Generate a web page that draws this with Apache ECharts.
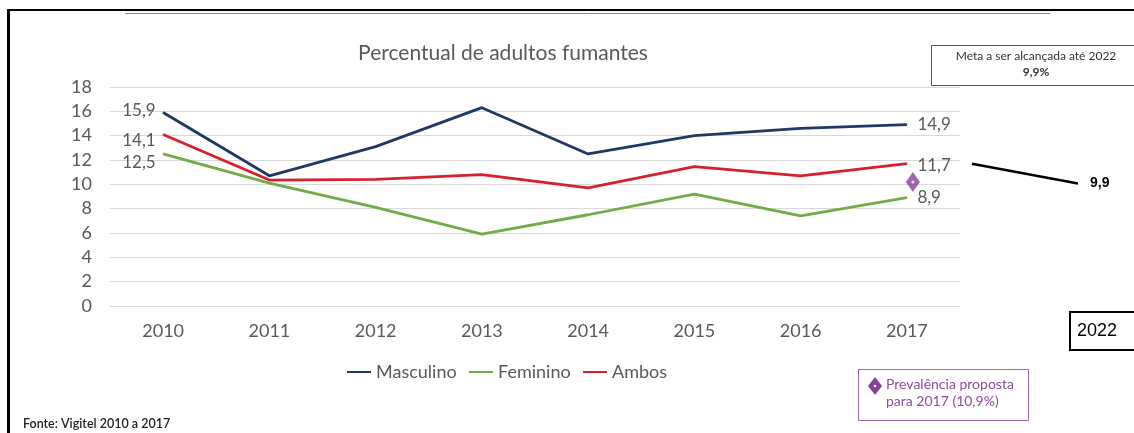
<!DOCTYPE html>
<html><head><meta charset="utf-8">
<script src="https://cdn.jsdelivr.net/npm/echarts@6/dist/echarts.min.js"></script>
<style>html,body{margin:0;padding:0;background:#fff}#c{width:1134px;height:433px}</style>
</head><body><div id="c"></div>
<script>
const years = ['2010','2011','2012','2013','2014','2015','2016','2017'];
const masculino = [15.9, 10.7, 13.1, 16.3, 12.5, 14.0, 14.6, 14.9];
const feminino  = [12.5, 10.1, 8.1, 5.9, 7.5, 9.2, 7.4, 8.9];
const ambos     = [14.1, 10.35, 10.4, 10.8, 9.7, 11.45, 10.7, 11.7];
const proposta2017 = 10.2;
const meta2022 = 9.9;
const yTicks = [0, 2, 4, 6, 8, 10, 12, 14, 16, 18];

const FONT = 'Lato, "Open Sans", sans-serif';
const GREY = '#595959';
const fmt = v => String(v).replace('.', ',');

function labelled(arr, firstOffset, lastOffset) {
  return arr.map((v, i) => {
    if (i === 0) return { value: v, label: { show: true, position: 'left', distance: 7, offset: firstOffset } };
    if (i === arr.length - 1) return { value: v, label: { show: true, position: 'right', distance: 10, offset: lastOffset } };
    return { value: v };
  });
}

const chart = echarts.init(document.getElementById('c'), null, { renderer: 'canvas' });
const baseLabel = { show: false, color: GREY, fontSize: 17, fontFamily: FONT, formatter: p => fmt(p.value) };
const legendCommon = { icon: 'rect', itemWidth: 24, itemHeight: 2, top: 358,
  textStyle: { color: GREY, fontSize: 18, fontFamily: FONT } };
function lineSeries(name, data, color, fo, lo, z) {
  return { name, type: 'line', data: labelled(data, fo, lo), symbol: 'circle', symbolSize: 1, showSymbol: true,
    color, itemStyle: { color }, lineStyle: { width: 2.8, color }, label: baseLabel, z };
}
chart.setOption({
  animation: false,
  title: { text: 'Percentual de adultos fumantes', left: 498, top: 38, textAlign: 'center',
    textStyle: { color: GREY, fontSize: 21, fontWeight: 'normal', fontFamily: FONT } },
  grid: { left: 110, right: 174, top: 87, bottom: 127 },
  legend: [
    Object.assign({ data: ['Masculino'], left: 342 }, legendCommon),
    Object.assign({ data: ['Feminino'], left: 464 }, legendCommon),
    Object.assign({ data: ['Ambos'], left: 578 }, legendCommon)
  ],
  xAxis: { type: 'category', data: years, boundaryGap: true,
    axisLine: { show: false }, axisTick: { show: false },
    axisLabel: { color: GREY, fontSize: 18, fontFamily: FONT, margin: 16 } },
  yAxis: { type: 'value', min: yTicks[0], max: yTicks[yTicks.length - 1], interval: 2,
    axisLine: { show: false }, axisTick: { show: false },
    splitLine: { lineStyle: { color: '#d9d9d9', width: 1 } },
    axisLabel: { color: GREY, fontSize: 18, fontFamily: FONT, margin: 18 } },
  series: [
    lineSeries('Feminino', feminino, '#70ad47', [0, 9], [0, 0], 2),
    lineSeries('Masculino', masculino, '#1f3864', [0, -2], [0, 0], 3),
    lineSeries('Ambos', ambos, '#d7202b', [0, 6], [0, 2], 4),
    { name: 'Proposta', type: 'scatter', data: [['2017', proposta2017]], symbol: 'diamond',
      symbolSize: [14, 20], symbolOffset: [6, 0], itemStyle: { color: '#87409a' }, z: 5 },
    { name: 'PropostaDot', type: 'scatter', data: [['2017', proposta2017]], symbol: 'circle',
      symbolSize: 3, symbolOffset: [6, 0], itemStyle: { color: '#fff' }, z: 6 }
  ]
});

function drawExtras() {
  const yStart = chart.convertToPixel({ yAxisIndex: 0 }, ambos[ambos.length - 1]);
  const yEnd = chart.convertToPixel({ yAxisIndex: 0 }, meta2022);
  chart.setOption({ graphic: [
    { type: 'line', shape: { x1: 8.5, y1: 9, x2: 8.5, y2: 433 }, style: { stroke: '#000', lineWidth: 3 } },
    { type: 'line', shape: { x1: 7, y1: 10, x2: 1134, y2: 10 }, style: { stroke: '#000', lineWidth: 2 } },
    { type: 'line', shape: { x1: 125, y1: 13.5, x2: 1050, y2: 13.5 }, style: { stroke: '#888', lineWidth: 1 } },
    { type: 'line', shape: { x1: 972, y1: yStart, x2: 1078, y2: yEnd - 2 }, style: { stroke: '#000', lineWidth: 2.5 } },
    { type: 'text', x: 1090, y: yEnd - 9, style: { text: fmt(meta2022), fill: '#000', font: 'bold 14px "Liberation Sans", Arial, sans-serif' } },
    { type: 'rect', shape: { x: 931.5, y: 45.5, width: 205, height: 40 }, style: { fill: '#fff', stroke: '#555', lineWidth: 1 } },
    { type: 'text', x: 1036, y: 50, style: { text: 'Meta a ser alcançada até 2022', fill: '#333', font: '12px ' + FONT, textAlign: 'center' } },
    { type: 'text', x: 1036, y: 66, style: { text: '9,9%', fill: '#333', font: 'bold 12px ' + FONT, textAlign: 'center' } },
    { type: 'rect', shape: { x: 1070, y: 312, width: 72, height: 38 }, style: { fill: '#fff', stroke: '#000', lineWidth: 2 } },
    { type: 'text', x: 1077, y: 322, style: { text: '2022', fill: '#000', font: '18px "Liberation Sans", Arial, sans-serif' } },
    { type: 'rect', shape: { x: 858.5, y: 369.5, width: 170, height: 51 }, style: { fill: '#fff', stroke: '#9b6aa6', lineWidth: 1 } },
    { type: 'polygon', shape: { points: [[875, 377], [882, 386], [875, 395], [868, 386]] }, style: { fill: '#87409a' } },
    { type: 'circle', shape: { cx: 875, cy: 386, r: 1.3 }, style: { fill: '#fff' } },
    { type: 'text', x: 886, y: 376, style: { text: 'Prevalência proposta\npara 2017 (10,9%)', fill: '#8e4a9e', font: '14px ' + FONT, lineHeight: 17 } },
    { type: 'text', x: 23, y: 417, style: { text: 'Fonte: Vigitel 2010 a 2017', fill: '#222', font: '600 12.5px ' + FONT } }
  ] });
}
drawExtras();
</script></body></html>
